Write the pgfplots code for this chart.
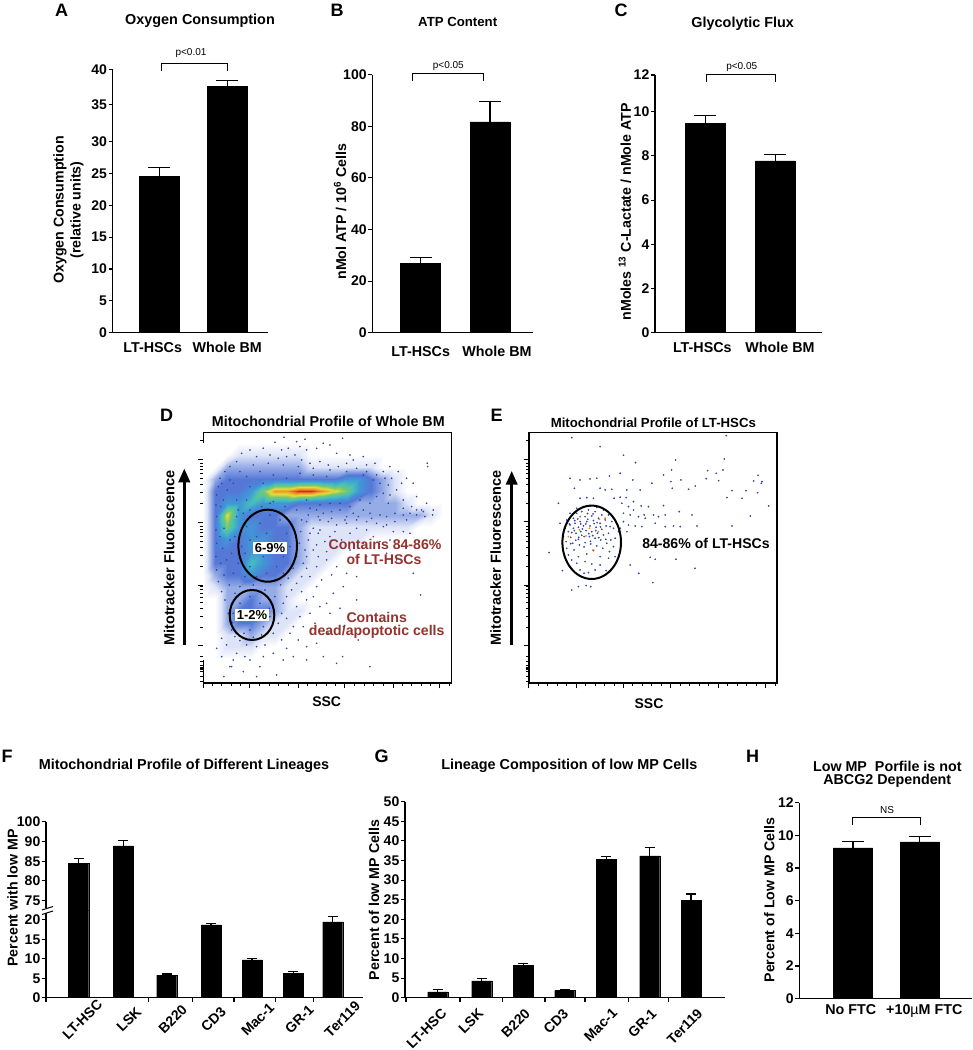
\documentclass[border=0pt]{standalone}
\usepackage{fontspec}
\setmainfont{Liberation Sans}
\usepackage{pgfplots}
\usepackage{pgfplotstable}
\pgfplotsset{compat=1.18}
\usetikzlibrary{arrows.meta}
\newcommand{\fs}[1]{\fontsize{#1}{#1}\selectfont\bfseries}
\definecolor{brick}{RGB}{150,50,45}
\definecolor{dotblue}{RGB}{50,70,170}

% all x values below are pixel columns of the reference
\pgfplotsset{
  bars/.style={
    scale only axis, axis x line=bottom, axis y line=left,
    axis line style={line width=1.2pt,-},
    tick style={black,line width=1.1pt},
    major tick length=4pt, minor tick length=4pt, tick align=outside,
    /pgf/number format/assume math mode=true,
    y tick label style={font=\fs{14}, inner sep=1.5pt},
    x tick label style={font=\fs{14.3}},
    ylabel style={font=\fs{14.2}, anchor=center, align=center},
    major x tick style={draw=none},
    minor x tick style={black,line width=1.1pt},
    ymin=0, clip=true,
  },
  blackbar/.style n args={2}{ybar, bar shift=0pt, bar width=#1, draw=black, fill=black,
    error bars/.cd, y dir=plus, y explicit,
    error bar style={line width=1.2pt,black},
    error mark options={rotate=90,mark size=#2,line width=1.2pt,black}},
  % whisker as a comb, for the axes with a coord trafo
  whisker/.style={ycomb, black, line width=1.2pt, mark=-, mark size=11pt, mark options={solid,line width=1.2pt}},
  flow/.style={
    scale only axis, width=248.3pt, height=250.7pt,
    ymin=98, ymax=850, y dir=reverse,
    axis line style={line width=1.6pt}, clip=true,
    tick style={black,line width=1pt}, tick align=outside,
    major tick length=5pt, minor tick length=3pt,
    xtick pos=lower, ytick pos=left,
    xticklabels={}, yticklabels={},
    ylabel style={font=\fs{14.5}, anchor=center},
    point meta min=0, point meta max=9,
    colormap={flow}{rgb255(0)=(255,255,255) rgb255(1)=(222,228,247) rgb255(2)=(150,172,230)
      rgb255(3)=(85,120,215) rgb255(4)=(65,150,215) rgb255(5)=(70,190,190) rgb255(6)=(120,200,110)
      rgb255(7)=(225,220,60) rgb255(8)=(240,150,40) rgb255(9)=(205,50,30)},
    minor ytick={122,312,279,255,237,222,210,199,190,501,468,444,426,411,399,388,379,
      682,649,625,607,592,580,569,560,770,785,797,802,805,808,815,830,845},
  },
}

% density of panel D, read on a grid: x y level
\pgfplotstableread[row sep=\\]{
x y c\\
160 130 0\\196 130 0\\232 130 0\\268 130 0\\304 130 0\\340 130 0\\376 130 0\\412 130 0\\448 130 0\\484 130 0\\520 130 0\\556 130 0\\592 130 0\\628 130 0\\664 130 0\\700 130 0\\736 130 0\\772 130 0\\808 130 0\\844 130 0\\880 130 0\\
160 166 0\\196 166 0\\232 166 0\\268 166 1\\304 166 1\\340 166 1\\376 166 1\\412 166 1\\448 166 1\\484 166 0\\520 166 0\\556 166 0\\592 166 0\\628 166 0\\664 166 0\\700 166 0\\736 166 0\\772 166 0\\808 166 0\\844 166 0\\880 166 0\\
160 202 0\\196 202 0\\232 202 2\\268 202 2\\304 202 2\\340 202 2\\376 202 2\\412 202 2\\448 202 2\\484 202 1\\520 202 1\\556 202 1\\592 202 1\\628 202 1\\664 202 1\\700 202 0\\736 202 0\\772 202 0\\808 202 0\\844 202 0\\880 202 0\\
160 238 0\\196 238 2\\232 238 3\\268 238 3\\304 238 3\\340 238 3\\376 238 3\\412 238 3\\448 238 3\\484 238 3\\520 238 3\\556 238 3\\592 238 4\\628 238 4\\664 238 3\\700 238 2\\736 238 1\\772 238 0\\808 238 0\\844 238 0\\880 238 0\\
160 274 0\\196 274 3\\232 274 3\\268 274 3\\304 274 4\\340 274 6\\376 274 8\\412 274 8\\448 274 9\\484 274 9\\520 274 8\\556 274 7\\592 274 6\\628 274 4\\664 274 3\\700 274 2\\736 274 1\\772 274 0\\808 274 0\\844 274 0\\880 274 0\\
160 310 0\\196 310 3\\232 310 4\\268 310 4\\304 310 5\\340 310 4\\376 310 4\\412 310 4\\448 310 3\\484 310 3\\520 310 3\\556 310 3\\592 310 3\\628 310 2\\664 310 2\\700 310 2\\736 310 2\\772 310 1\\808 310 0\\844 310 0\\880 310 0\\
160 346 0\\196 346 3\\232 346 7\\268 346 4\\304 346 3\\340 346 3\\376 346 3\\412 346 2\\448 346 2\\484 346 2\\520 346 2\\556 346 2\\592 346 2\\628 346 2\\664 346 2\\700 346 2\\736 346 2\\772 346 2\\808 346 2\\844 346 1\\880 346 0\\
160 382 0\\196 382 3\\232 382 6\\268 382 4\\304 382 4\\340 382 3\\376 382 3\\412 382 3\\448 382 2\\484 382 1\\520 382 1\\556 382 1\\592 382 1\\628 382 1\\664 382 1\\700 382 1\\736 382 1\\772 382 1\\808 382 0\\844 382 0\\880 382 0\\
160 418 0\\196 418 3\\232 418 4\\268 418 3\\304 418 4\\340 418 4\\376 418 3\\412 418 3\\448 418 2\\484 418 1\\520 418 1\\556 418 1\\592 418 1\\628 418 1\\664 418 0\\700 418 0\\736 418 0\\772 418 0\\808 418 0\\844 418 0\\880 418 0\\
160 454 0\\196 454 3\\232 454 3\\268 454 3\\304 454 4\\340 454 4\\376 454 3\\412 454 3\\448 454 2\\484 454 1\\520 454 1\\556 454 1\\592 454 0\\628 454 0\\664 454 0\\700 454 0\\736 454 0\\772 454 0\\808 454 0\\844 454 0\\880 454 0\\
160 490 0\\196 490 3\\232 490 3\\268 490 3\\304 490 5\\340 490 4\\376 490 3\\412 490 3\\448 490 2\\484 490 1\\520 490 1\\556 490 0\\592 490 0\\628 490 0\\664 490 0\\700 490 0\\736 490 0\\772 490 0\\808 490 0\\844 490 0\\880 490 0\\
160 526 0\\196 526 2\\232 526 3\\268 526 3\\304 526 4\\340 526 3\\376 526 3\\412 526 2\\448 526 1\\484 526 1\\520 526 0\\556 526 0\\592 526 0\\628 526 0\\664 526 0\\700 526 0\\736 526 0\\772 526 0\\808 526 0\\844 526 0\\880 526 0\\
160 562 0\\196 562 1\\232 562 2\\268 562 2\\304 562 2\\340 562 2\\376 562 2\\412 562 1\\448 562 1\\484 562 0\\520 562 0\\556 562 0\\592 562 0\\628 562 0\\664 562 0\\700 562 0\\736 562 0\\772 562 0\\808 562 0\\844 562 0\\880 562 0\\
160 598 0\\196 598 0\\232 598 2\\268 598 2\\304 598 3\\340 598 2\\376 598 2\\412 598 1\\448 598 0\\484 598 0\\520 598 0\\556 598 0\\592 598 0\\628 598 0\\664 598 0\\700 598 0\\736 598 0\\772 598 0\\808 598 0\\844 598 0\\880 598 0\\
160 634 0\\196 634 0\\232 634 2\\268 634 3\\304 634 3\\340 634 3\\376 634 2\\412 634 1\\448 634 1\\484 634 0\\520 634 0\\556 634 0\\592 634 0\\628 634 0\\664 634 0\\700 634 0\\736 634 0\\772 634 0\\808 634 0\\844 634 0\\880 634 0\\
160 670 0\\196 670 0\\232 670 2\\268 670 3\\304 670 3\\340 670 2\\376 670 1\\412 670 1\\448 670 0\\484 670 0\\520 670 0\\556 670 0\\592 670 0\\628 670 0\\664 670 0\\700 670 0\\736 670 0\\772 670 0\\808 670 0\\844 670 0\\880 670 0\\
160 706 0\\196 706 0\\232 706 1\\268 706 1\\304 706 2\\340 706 1\\376 706 1\\412 706 0\\448 706 0\\484 706 0\\520 706 0\\556 706 0\\592 706 0\\628 706 0\\664 706 0\\700 706 0\\736 706 0\\772 706 0\\808 706 0\\844 706 0\\880 706 0\\
160 742 0\\196 742 0\\232 742 1\\268 742 1\\304 742 1\\340 742 0\\376 742 0\\412 742 0\\448 742 0\\484 742 0\\520 742 0\\556 742 0\\592 742 0\\628 742 0\\664 742 0\\700 742 0\\736 742 0\\772 742 0\\808 742 0\\844 742 0\\880 742 0\\
160 778 0\\196 778 0\\232 778 0\\268 778 0\\304 778 0\\340 778 0\\376 778 0\\412 778 0\\448 778 0\\484 778 0\\520 778 0\\556 778 0\\592 778 0\\628 778 0\\664 778 0\\700 778 0\\736 778 0\\772 778 0\\808 778 0\\844 778 0\\880 778 0\\
}\dgrid

\begin{document}
\begin{tikzpicture}[x=1pt,y=1pt]
\path[use as bounding box] (0,0) rectangle (973,1050);

% A
\begin{axis}[bars, at={(112.7pt,717.3pt)}, anchor=south west, width=155.3pt, height=263.4pt,
  xmin=112.7, xmax=268, ymax=40,
  y coord trafo/.code={\pgfmathparse{#1<=30 ? #1*6.367 : (#1<=35 ? 191+(#1-30)*7.48 : 228.4+(#1-35)*7)}},
  ytick={0,5,10,15,20,25,30,35,40}, yticklabels={0,5,10,15,20,25,30,35,40},
  xtick={152.7,227.3}, xticklabels={LT-HSCs,Whole BM},
  x tick label style={yshift=-2pt},
  ylabel={Oxygen Consumption\\[3pt](relative units)},
  ylabel style={at={(axis description cs:-0.285,0.466)}}]
\addplot[whisker] coordinates {(159.2,26) (227.3,38.4)};
\addplot[ybar, bar shift=0pt, bar width=39.7pt, draw=black, fill=black] coordinates {(159.2,24.6) (227.3,37.6)};
\end{axis}

% B
\begin{axis}[bars, at={(372.3pt,717.3pt)}, anchor=south west, width=161pt, height=258pt,
  xmin=372.3, xmax=533.3, ymax=100,
  ytick={0,20,40,60,80,100},
  xtick={420.7,497}, xticklabels={LT-HSCs,Whole BM},
  x tick label style={yshift=-6pt},
  ylabel={nMol ATP / 10\textsuperscript{6} Cells},
  ylabel style={at={(axis description cs:-0.2,0.469)}}]
\addplot[blackbar={39.7pt}{11pt}] coordinates {(420.5,26.9) +- (0,2.3) (490,81.7) +- (0,8)};
\end{axis}

% C
\begin{axis}[bars, at={(655pt,717.3pt)}, anchor=south west, width=166.7pt, height=257.7pt,
  xmin=655, xmax=821.7, ymax=12,
  y coord trafo/.code={\pgfmathparse{#1<=10 ? #1*22.1 : 221+(#1-10)*18.35}},
  ytick={0,2,4,6,8,10,12}, yticklabels={0,2,4,6,8,10,12},
  xtick={702.3,780}, xticklabels={LT-HSCs,Whole BM},
  x tick label style={yshift=-2pt},
  ylabel={nMoles \textsuperscript{13} C-Lactate / nMole ATP},
  ylabel style={at={(axis description cs:-0.18,0.469)}}]
\addplot[whisker] coordinates {(705.2,9.83) (775.2,8.07)};
\addplot[ybar, bar shift=0pt, bar width=39.7pt, draw=black, fill=black] coordinates {(705.2,9.47) (775.2,7.78)};
\end{axis}

% D
\begin{axis}[flow, at={(203.3pt,366.7pt)}, anchor=south west,
  xmin=160, xmax=905,
  xtick={160,300,445,585,730,870}, ytick={178,368,557,738},
  minor xtick={188,216,244,272,329,358,387,416,473,501,529,557,614,643,672,701,758,786,814,842,898},
  ylabel={Mitotracker Fluorescence},
  ylabel style={at={(axis description cs:-0.137,0.5)}}]
\addplot[surf, shader=interp, mesh/cols=21, point meta=explicit] table[x=x, y=y, meta=c] {\dgrid};
\addplot[only marks, mark=*, mark size=0.6pt, color=dotblue] coordinates {
(402,112)(375,127)(440,125)(465,118)(520,130)(578,115)(395,150)(415,145)(450,140)(470,150)(500,145)(540,135)(560,160)(600,165)(640,170)(675,190)(720,200)(745,215)(832,190)(833,200)(770,235)(790,250)(755,250)(740,270)(700,280)(800,290)(830,310)(850,330)(848,345)(825,350)(800,345)(780,340)(760,345)(735,340)(710,350)(690,345)(660,340)(640,330)(610,340)(590,350)(570,330)(545,335)(520,340)(500,330)(475,345)
(480,400)(510,390)(540,410)(490,450)(470,470)(500,500)(530,480)(560,500)(590,520)(680,490)(740,480)(790,520)(700,380)(650,390)(600,400)(760,395)(720,420)(580,560)(550,580)(500,560)(470,600)(480,640)(440,620)(460,680)(510,620)(540,640)(445,720)(470,740)(430,770)(560,790)(660,800)(380,825)(222,830)(280,815)(300,780)(340,770)(260,760)(240,800)(200,745)(215,715)(230,735)(410,745)(420,700)(395,720)(812,585)(578,770)(470,780)(520,770)(245,800)
(275,160)(300,150)(320,170)(340,145)(360,165)(385,175)(410,170)(435,165)(455,180)(480,190)(510,185)(535,195)(565,200)(590,190)(620,205)(650,215)(680,225)(705,235)(725,235)(260,185)(240,200)(225,215)(210,235)(205,260)(200,285)(198,315)(200,350)(198,390)(200,430)(198,470)(200,510)(205,545)(215,575)(225,600)(235,640)(240,665)(245,690)(255,710)(270,722)(290,735)(320,740)(345,735)(370,700)(385,670)(395,640)(400,610)(410,590)(425,570)(440,550)(455,530)(470,505)(460,490)(465,450)(475,420)(490,385)(510,360)(535,365)(560,375)(590,370)(620,360)(650,365)(680,370)(710,375)(735,365)(770,360)(800,330)(820,335)
(250,250)(290,230)(330,215)(370,225)(410,235)(450,220)(490,225)(530,230)(300,260)(340,250)(220,300)(260,300)(280,340)(290,380)(300,420)(285,460)(300,500)(320,530)(350,520)(380,500)(400,470)(420,440)(410,400)(390,360)(360,345)(330,370)(320,410)(350,400)(370,430)(340,470)(380,460)(260,350)(240,420)(230,480)(250,520)(270,560)(300,590)(330,610)(360,600)(270,610)(280,650)(300,690)(340,680)(360,650)(250,640)(320,660)
(505,400)(525,425)(555,395)(575,420)(620,385)(670,410)(690,425)(730,395)(780,400)(500,435)(530,455)(560,440)(600,450)(640,430)(505,470)(545,525)(620,530)(650,470)(710,460)(480,530)(515,540)(455,575)(490,590)(530,610)(570,625)(620,600)(450,650)(495,670)(535,700)(580,680)(625,720)(500,730)(410,655)(430,680)(400,780)(370,760)(330,800)(285,770)(215,770)(250,780)(320,830)(470,300)(540,310)(600,320)(660,310)(715,310)(760,300)(785,320)(815,330)(690,250)(715,255)(650,195)(610,180)(700,215)
(215,250)(232,270)(212,320)(222,385)(210,410)(218,445)(212,490)(222,525)(238,555)(255,580)(245,610)(262,635)(248,668)(282,700)(310,712)(335,705)(358,625)(375,590)(392,555)(415,535)(430,505)(440,470)(448,430)(452,395)(455,360)(480,325)(510,315)(570,310)(630,300)(680,290)(720,285)(760,325)(665,355)(625,350)(585,360)(545,355)(505,350)(470,365)(440,330)(405,320)(370,305)(335,320)(300,330)(265,330)(240,240)(270,215)(310,195)(355,190)(400,195)(445,200)(490,205)(540,210)(590,215)(640,225)(670,240)(285,530)(310,555)(345,570)(375,540)(400,520)(245,460)(265,490)(255,410)(275,440)(360,310)(290,300)
};
\end{axis}

% E
\begin{axis}[flow, at={(528.7pt,366.7pt)}, anchor=south west,
  xmin=146, xmax=890,
  xtick={146,288,430,572,715,857}, ytick={178,365,557,738},
  minor xtick={174,202,231,259,316,345,373,402,458,487,515,544,601,629,658,686,743,771,800,828,885},
  ylabel={Mitotracker Fluorescence},
  ylabel style={at={(axis description cs:-0.133,0.5)}}]
\addplot[only marks, mark=*, mark size=0.65pt, color=dotblue] coordinates {
(275,113)(360,140)(738,107)(430,166)(466,188)(732,177)(586,180)(574,210)(682,212)(728,210)(708,220)(833,226)(270,235)(300,240)(330,237)(350,235)(388,228)(420,220)(458,240)(550,225)(572,245)(602,240)(678,236)(715,242)(820,243)(845,245)(843,250)(283,265)(360,265)(375,270)(395,268)(440,270)(480,270)(515,250)(576,265)(625,268)(645,258)(755,272)(797,272)(832,278)(740,293)(785,295)(235,310)(300,295)(320,293)(340,295)(402,295)(420,292)(438,293)(460,305)(483,318)(505,320)(550,317)(865,318)(810,348)(635,345)(597,335)(492,345)
(425,310)(445,320)(460,330)(430,340)(450,345)(475,350)(495,355)(520,345)(535,350)(555,345)(430,365)(445,375)(465,378)(485,380)(525,370)(555,380)(580,378)(600,380)(650,378)(755,378)(420,385)(440,395)(510,472)(525,478)(587,478)(450,495)(476,520)(518,548)(644,505)(207,458)(247,512)(275,570)(295,560)(318,557)(332,560)(240,370)
(290,325)(310,320)(330,318)(350,322)(370,330)(385,345)(270,340)(290,340)(305,335)(325,330)(345,335)(365,345)(395,365)(400,385)(260,360)(280,355)(300,350)(315,350)(335,348)(355,355)(375,360)(390,380)(255,385)(270,375)(285,370)(300,365)(320,365)(340,362)(360,370)(378,378)(250,410)(265,395)(280,385)(295,382)(310,378)(330,378)(348,382)(365,388)(385,400)(405,415)
(258,425)(272,412)(288,400)(302,395)(318,392)(335,395)(352,400)(370,405)(392,420)(260,445)(278,430)(295,418)(312,410)(328,410)(345,415)(362,420)(380,430)(400,440)(265,465)(282,450)(298,435)(315,428)(332,432)(350,438)(368,445)(388,455)(275,480)(295,470)(320,462)(340,452)(360,470)(385,475)(290,490)(315,485)(335,492)(360,495)(300,510)(325,518)(345,510)(378,512)(312,520)(405,470)(415,395)
(293,357)(322,341)(283,392)(342,371)(305,406)(326,401)(361,381)(287,421)(307,387)(338,407)(275,398)(351,368)(317,372)(296,412)(331,424)(268,372)(377,418)(312,441)(284,362)(347,392)(302,372)(323,358)(272,431)(356,413)(339,342)
};
\addplot[only marks, mark=*, mark size=0.65pt, color=orange] coordinates {
(300,350)(358,358)(265,410)(318,408)(338,450)(375,355)(298,390)(328,385)(355,395)
};
\end{axis}

% F, the axis is broken between 22 and 72
\begin{axis}[bars, at={(46pt,52.3pt)}, anchor=south west, width=317.3pt, height=86.7pt,
  xmin=46, xmax=363.3, ymax=22.3,
  ytick={0,5,10,15,20},
  xtick={64.7,111.3,155,195.8,240,281.7,324.7}, xticklabels={LT-HSC,LSK,B220,CD3,Mac-1,GR-1,Ter119},
  x tick label style={rotate=45,anchor=center,font=\fs{14},inner sep=1pt,yshift=-25pt},
  minor xtick={46,148.7,192.7,234,275.3,313.3},
  ylabel={Percent with low MP},
  ylabel style={at={(axis description cs:-0.1056,1.15)}}]
\addplot[blackbar={20pt}{5pt}] coordinates {(78.7,84.4) +- (0,1.3) (123.3,88.9) +- (0,1.4)
  (166.7,5.8) +- (0,0.3) (211,18.7) +- (0,0.35) (252,9.75) +- (0,0.35) (293.3,6.35) +- (0,0.45) (332.7,19.5) +- (0,1.4)};
\end{axis}
\begin{axis}[bars, at={(46pt,139pt)}, anchor=south west, width=317.3pt, height=89.3pt,
  xmin=46, xmax=363.3, ymin=72.39, ymax=95,
  axis x line=none,
  ytick={75,80,85,90,95}, yticklabels={75,80,85,90,100}]
\addplot[blackbar={20pt}{5pt}] coordinates {(78.7,84.4) +- (0,1.3) (123.3,88.9) +- (0,1.4)};
\end{axis}

% G
\begin{axis}[bars, at={(405pt,52.3pt)}, anchor=south west, width=319.6pt, height=196pt,
  xmin=405, xmax=724.6, ymax=50,
  ytick={0,5,...,50},
  xtick={436.3,473,519.7,558,607,646.3,692.3}, xticklabels={LT-HSC,LSK,B220,CD3,Mac-1,GR-1,Ter119},
  x tick label style={rotate=45,anchor=north east,font=\fs{14},inner sep=1pt,yshift=-6pt},
  minor xtick={406,460,502.7,545,585,628.3,668.3},
  ylabel={Percent of low MP Cells},
  ylabel style={at={(axis description cs:-0.097,0.498)}}]
\addplot[blackbar={20pt}{5pt}] coordinates {(437.7,1.5) +- (0,0.5) (481.7,4.3) +- (0,0.55) (523.3,8.3) +- (0,0.4)
  (564.7,1.8) +- (0,0.25) (606.3,35.3) +- (0,0.75) (649.7,36.2) +- (0,2.15) (691,24.75) +- (0,1.7)};
\end{axis}

% H
\begin{axis}[bars, at={(799.3pt,51.3pt)}, anchor=south west, width=172.4pt, height=196pt,
  xmin=799.3, xmax=971.7, ymax=12,
  ytick={0,2,4,6,8,10,12},
  xtick={850.7,924.3}, xticklabels={No FTC,{+10{\mdseries µ}M FTC}},
  x tick label style={yshift=2pt},
  ylabel={Percent of Low MP Cells},
  ylabel style={at={(axis description cs:-0.174,0.504)}}]
\addplot[blackbar={39.3pt}{11pt}] coordinates {(853,9.24) +- (0,0.36) (919.7,9.6) +- (0,0.32)};
\end{axis}

% text, brackets and gates, in reference pixels (y down)
\begin{scope}[shift={(0,1050)}, y=-1pt]
\foreach \l/\x/\y in {A/61.7/10.7,B/337/10.5,C/621/10.7,D/166.7/415,E/496.7/415,F/7/756,G/381.7/756,H/752.7/756}
  \node[font=\fs{18}] at (\x,\y) {\l};
\node[font=\fs{14.4}] at (200,20.7) {Oxygen Consumption};
\node[font=\fs{13.2}] at (457.7,22) {ATP Content};
\node[font=\fs{14.4}] at (742.7,24) {Glycolytic Flux};
\node[font=\fs{14.3}] at (328.3,421.7) {Mitochondrial Profile of Whole BM};
\node[font=\fs{13.2}] at (653.3,422.3) {Mitochondrial Profile of LT-HSCs};
\node[font=\fs{14.4}] at (184,766) {Mitochondrial Profile of Different Lineages};
\node[font=\fs{14.4}] at (569.3,766) {Lineage Composition of low MP Cells};
\node[font=\fs{14.3}] at (887.3,766) {Low MP\ \ Porfile is not};
\node[font=\fs{14.3}] at (887.3,780.7) {ABCG2 Dependent};
% significance brackets
\draw[line width=1pt] (161,71) -- (161,64) -- (227,64) -- (227,71);
\node[font=\fontsize{10}{10}\selectfont] at (191,52.7) {p<0.01};
\draw[line width=1pt] (412.7,80.7) -- (412.7,74) -- (483.7,74) -- (483.7,80.7);
\node[font=\fontsize{10}{10}\selectfont] at (448.3,66) {p<0.05};
\draw[line width=1pt] (706.3,82.3) -- (706.3,75) -- (775,75) -- (775,82.3);
\node[font=\fontsize{10}{10}\selectfont] at (741.7,67.3) {p<0.05};
\draw[line width=1pt] (852.3,825) -- (852.3,818) -- (920,818) -- (920,825);
\node[font=\fontsize{10}{10}\selectfont] at (887,810) {NS};
% axis break of F
\fill[white] (42,908.5) rectangle (50,913.5);
\draw[line width=1pt] (42,910) -- (53,906.5) (42,914.5) -- (53,911);
% D
\draw[line width=3.5pt,-{Triangle[width=11pt,length=14pt]}] (184.3,645) -- (184.3,468.3);
\draw[line width=2pt] (267.7,545.7) ellipse [x radius=29.3,y radius=36];
\draw[line width=2pt] (252,615) ellipse [x radius=22.3,y radius=25];
\node[font=\fs{13},fill=white,inner sep=1.5pt] at (270,547.7) {6-9\%};
\node[font=\fs{13},fill=white,inner sep=1.5pt] at (252,615) {1-2\%};
\node[font=\fs{14.1},text=brick] at (385,544.7) {Contains 84-86\%};
\node[font=\fs{14.1},text=brick] at (384,559) {of LT-HSCs};
\node[font=\fs{14.1},text=brick] at (376.7,617.7) {Contains};
\node[font=\fs{14.1},text=brick] at (376.7,631.7) {dead/apoptotic cells};
\node[font=\fs{14}] at (326.7,701.7) {SSC};
% E
\draw[line width=3.5pt,-{Triangle[width=11pt,length=14pt]}] (511.7,645) -- (511.7,470.7);
\draw[line width=2pt] (591.7,542.3) ellipse [x radius=29.3,y radius=36.7];
\node[font=\fs{14.1}] at (706,543.3) {84-86\% of LT-HSCs};
\node[font=\fs{14}] at (649,703.3) {SSC};
\end{scope}
\end{tikzpicture}
\end{document}
